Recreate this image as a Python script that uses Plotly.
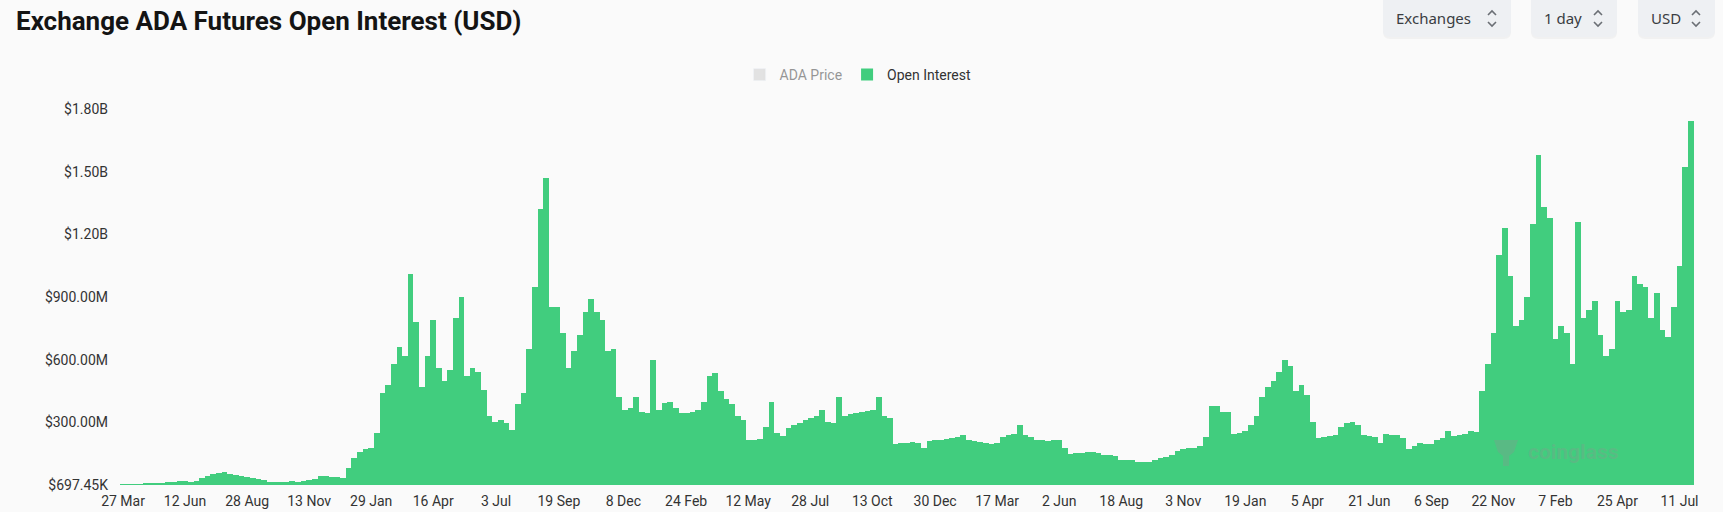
import pandas as pd
import plotly.graph_objects as go

# ---------------- data ----------------
start_date = "2020-03-27"
# weekly open interest in millions USD
oi_millions = [
    1, 2, 3, 5,
    8, 10, 11, 12, 13, 15,
    20, 18, 17, 22, 35, 45, 52, 58, 62, 55,
    50, 45, 40, 32, 28, 25, 15, 14, 15, 16,
    18, 17, 18, 25, 30, 45, 42, 40, 38, 35,
    80, 130, 160, 175, 180, 250, 440, 480, 580, 660,
    620, 1010, 780, 470, 620, 790, 560, 500, 550, 800,
    900, 520, 560, 540, 455, 330, 300, 310, 295, 265,
    390, 440, 650, 950, 1320, 1470, 850, 850, 730, 560,
    640, 720, 830, 890, 830, 790, 640, 650, 420, 360,
    370, 420, 350, 345, 600, 360, 395, 400, 370, 345,
    345, 350, 360, 400, 520, 535, 450, 410, 390, 330,
    310, 215, 215, 220, 280, 400, 250, 235, 275, 290,
    295, 310, 320, 330, 360, 300, 295, 420, 330, 340,
    345, 350, 355, 360, 420, 330, 320, 195, 200, 200,
    205, 200, 180, 210, 215, 215, 220, 225, 230, 240,
    215, 210, 205, 200, 195, 200, 230, 240, 245, 290,
    240, 230, 215, 215, 210, 215, 215, 180, 150, 155,
    155, 160, 160, 155, 145, 145, 140, 120, 120, 118,
    112, 110, 110, 120, 130, 135, 145, 165, 175, 180,
    180, 185, 230, 380, 380, 350, 350, 245, 250, 260,
    290, 330, 420, 470, 500, 540, 600, 570, 450, 480,
    430, 300, 225, 230, 235, 240, 280, 295, 300, 290,
    240, 235, 230, 200, 245, 240, 240, 225, 175, 185,
    200, 195, 195, 215, 225, 260, 235, 240, 245, 260,
    255, 450, 580, 730, 1100, 1230, 1000, 760, 790, 900,
    1250, 1580, 1330, 1280, 700, 760, 730, 580, 1260, 800,
    840, 880, 720, 620, 650, 880, 830, 840, 1000, 960,
    950, 800, 920, 740, 710, 850, 1050, 1520, 1740,
]

tick_dates = [
    "2020-03-27", "2020-06-12", "2020-08-28", "2020-11-13", "2021-01-29",
    "2021-04-16", "2021-07-03", "2021-09-19", "2021-12-08", "2022-02-24",
    "2022-05-12", "2022-07-28", "2022-10-13", "2022-12-30", "2023-03-17",
    "2023-06-02", "2023-08-18", "2023-11-03", "2024-01-19", "2024-04-05",
    "2024-06-21", "2024-09-06", "2024-11-22", "2025-02-07", "2025-04-25",
    "2025-07-11",
]
tick_labels = [
    "27 Mar", "12 Jun", "28 Aug", "13 Nov", "29 Jan", "16 Apr", "3 Jul",
    "19 Sep", "8 Dec", "24 Feb", "12 May", "28 Jul", "13 Oct", "30 Dec",
    "17 Mar", "2 Jun", "18 Aug", "3 Nov", "19 Jan", "5 Apr", "21 Jun",
    "6 Sep", "22 Nov", "7 Feb", "25 Apr", "11 Jul",
]

y_tick_values = [697450, 300e6, 600e6, 900e6, 1.2e9, 1.5e9, 1.8e9]
y_tick_labels = ["$697.45K", "$300.00M", "$600.00M", "$900.00M",
                 "$1.20B", "$1.50B", "$1.80B"]

# ---------------- layout helpers ----------------
W, H = 1723, 512
PL, PR, PT, PB = 119, 1694, 97, 485  # plot area in pixels


def px(xp):
    return (xp - PL) / (PR - PL)


def py(yp):
    return (PB - yp) / (PB - PT)


dates = pd.date_range(start_date, periods=len(oi_millions), freq="7D")
oi_usd = [v * 1e6 for v in oi_millions]

GREEN = "#41cd7e"
BG = "#fafafa"

fig = go.Figure()
fig.add_trace(go.Bar(
    x=[dates[0]], y=[None], name="ADA Price", visible="legendonly",
    marker=dict(color="#c9c9c9"),
))
fig.add_trace(go.Bar(
    x=dates, y=oi_usd, name="Open Interest",
    width=7 * 86400000,
    marker=dict(color=GREEN, line=dict(width=0)),
    hovertemplate="%{x|%d %b %Y}<br>$%{y:,.0f}<extra></extra>",
))

shapes = []
annotations = []


def rounded_box(x0, y0, x1, y1, r=6):
    rx = r / (PR - PL)
    ry = r / (PB - PT)
    X0, X1 = px(x0), px(x1)
    Y0, Y1 = py(y1), py(y0)
    path = (f"M {X0+rx},{Y0} L {X1-rx},{Y0} Q {X1},{Y0} {X1},{Y0+ry} "
            f"L {X1},{Y1-ry} Q {X1},{Y1} {X1-rx},{Y1} L {X0+rx},{Y1} "
            f"Q {X0},{Y1} {X0},{Y1-ry} L {X0},{Y0+ry} Q {X0},{Y0} {X0+rx},{Y0} Z")
    return path


buttons = [
    ("Exchanges", 1383, 1511),
    ("1 day", 1531, 1617),
    ("USD", 1638, 1715),
]
for label, bx0, bx1 in buttons:
    shapes.append(dict(type="path", xref="paper", yref="paper",
                       path=rounded_box(bx0, -8, bx1, 39, 7),
                       fillcolor="rgba(0,0,0,0.035)", line=dict(width=0), layer="above"))
    shapes.append(dict(type="path", xref="paper", yref="paper",
                       path=rounded_box(bx0, -8, bx1, 37, 7),
                       fillcolor="#eef0f3", line=dict(width=0), layer="above"))
    cx = bx1 - 19
    annotations.append(dict(text=label, xref="paper", yref="paper",
                            x=px(bx0 + 11), y=py(18), xanchor="left", yanchor="middle",
                            showarrow=False,
                            font=dict(family="Noto Sans", size=15, color="#3a3d42")))
    for (a, b, c) in [((cx - 4, 15), (cx, 11), (cx + 4, 15)),
                      ((cx - 4, 22), (cx, 26), (cx + 4, 22))]:
        shapes.append(dict(type="path", xref="paper", yref="paper",
                           path=f"M {px(a[0])},{py(a[1])} L {px(b[0])},{py(b[1])} L {px(c[0])},{py(c[1])}",
                           line=dict(color="#6b6f75", width=1.6), layer="above"))

# watermark
WM = "rgba(140,150,145,0.33)"
shapes.append(dict(type="path", xref="paper", yref="paper",
                   path=(f"M {px(1494)},{py(440)} L {px(1518)},{py(440)} L {px(1514)},{py(452)} "
                         f"L {px(1509)},{py(456)} L {px(1509)},{py(466)} L {px(1503)},{py(466)} "
                         f"L {px(1503)},{py(456)} L {px(1498)},{py(452)} Z"),
                   fillcolor=WM, line=dict(width=0), layer="above"))
annotations.append(dict(text="<b>coinglass</b>", xref="paper", yref="paper",
                        x=px(1526), y=py(452), xanchor="left", yanchor="middle",
                        showarrow=False,
                        font=dict(family="Roboto", size=21, color=WM)))

fig.update_layout(
    width=W, height=H,
    paper_bgcolor=BG, plot_bgcolor=BG,
    margin=dict(l=PL, r=W - PR, t=PT, b=H - PB, pad=0, autoexpand=False),
    barmode="overlay", bargap=0,
    title=dict(text="<b>Exchange ADA Futures Open Interest (USD)</b>",
               x=16 / W, xanchor="left", xref="container",
               y=1 - 21 / H, yanchor="middle", yref="container",
               font=dict(family="Roboto", size=26, color="#141414")),
    legend=dict(orientation="h", xref="container", yref="container",
                x=0.498, xanchor="center", y=1 - 75 / H, yanchor="middle",
                font=dict(family="Roboto", size=14, color="#333333"),
                itemclick=False, itemdoubleclick=False, bgcolor="rgba(0,0,0,0)"),
    font=dict(family="Roboto", size=14, color="#333333"),
    shapes=shapes,
    annotations=annotations,
    showlegend=True,
)

fig.update_xaxes(
    type="date", automargin=False,
    range=["2020-03-22", "2025-07-29"],
    tickmode="array", tickvals=tick_dates, ticktext=tick_labels,
    showgrid=False, zeroline=False, showline=False, ticks="",
    tickfont=dict(family="Roboto", size=14, color="#333333"),
    ticklabelstandoff=6,
)
fig.update_yaxes(
    automargin=False,
    range=[697450, 1.857e9],
    tickmode="array", tickvals=y_tick_values, ticktext=y_tick_labels,
    showgrid=False, zeroline=False, showline=False, ticks="",
    tickfont=dict(family="Roboto", size=14, color="#333333"),
    ticklabelstandoff=10,
)

fig.write_html(
    "out.html",
    config={"displayModeBar": False},
    post_script="document.body.style.margin='0';document.body.style.background='#fafafa';",
)
